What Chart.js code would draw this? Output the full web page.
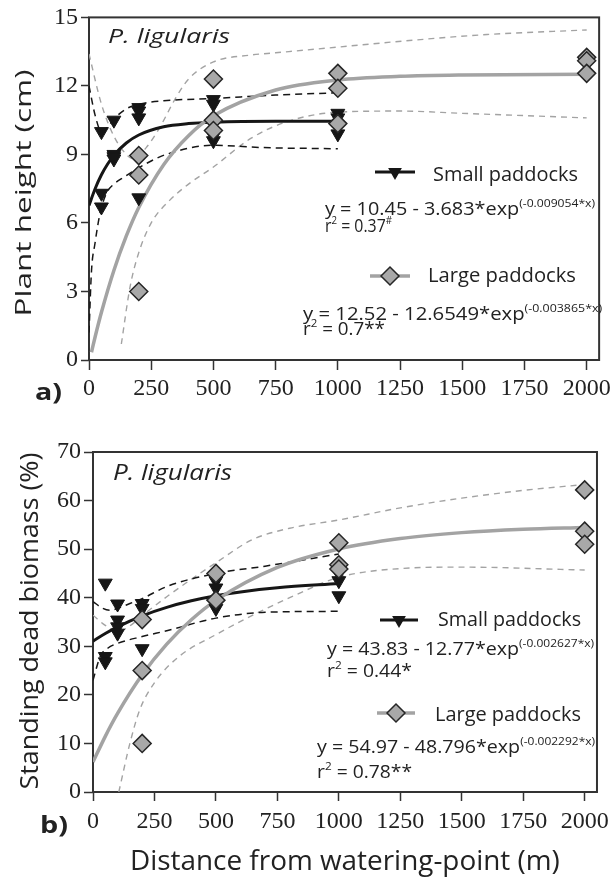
<!DOCTYPE html>
<html>
<head>
<meta charset="utf-8">
<script src="https://cdn.jsdelivr.net/npm/chart.js@4.4.1/dist/chart.umd.min.js"></script>
<style>
    body { margin: 0; width: 615px; height: 877px; position: relative; overflow: hidden; background: #fff; color: #222; font-family: 'Open Sans', sans-serif; }
    canvas { position: absolute; left: 0; }
    #chartA { top: 0; }
    #chartB { top: 430px; }
    .txt { position: absolute; white-space: nowrap; line-height: 1; transform-origin: 0 0; }
    .vtxt { position: absolute; white-space: nowrap; line-height: 1; transform-origin: 50% 50%; }
    .sup { position: relative; top: -8px; font-size: 11px; }
</style>
</head>
<body>
<canvas id="chartA" width="615" height="400"></canvas>
<canvas id="chartB" width="615" height="447"></canvas>
<script>
// shared axis ticks
const distanceTicks = [0, 250, 500, 750, 1000, 1250, 1500, 1750, 2000];
const heightTicks = [0, 3, 6, 9, 12, 15];
const deadTicks = [0, 10, 20, 30, 40, 50, 60, 70];

// a) plant height - observations
const aSmallX = [50, 50, 50, 100, 100, 100, 100, 200, 200, 200, 200, 500, 500, 500, 500, 1000, 1000, 1000];
const aSmallY = [10.0, 7.3, 6.7, 10.5, 9.0, 8.9, 8.8, 11.05, 10.9, 10.6, 7.1, 11.4, 11.2, 9.8, 9.6, 10.8, 10.6, 9.9];
const aLargeX = [200, 200, 200, 500, 500, 500, 1000, 1000, 1000, 2000, 2000, 2000];
const aLargeY = [8.95, 8.1, 3.0, 12.3, 10.5, 10.05, 12.55, 11.9, 10.35, 13.25, 13.1, 12.55];

// a) fitted curves
const aSmallFitX = [0, 25, 50, 75, 100, 150, 200, 300, 400, 500, 750, 1000];
const aSmallFitY = [6.77, 7.51, 8.11, 8.58, 8.96, 9.50, 9.85, 10.21, 10.35, 10.41, 10.45, 10.45];
const aLargeFitX = [10, 25, 50, 100, 150, 200, 300, 400, 500, 750, 1000, 1250, 1500, 2000];
const aLargeFitY = [0.34, 1.03, 2.09, 3.92, 5.43, 6.68, 8.55, 9.82, 10.69, 11.82, 12.26, 12.42, 12.48, 12.51];

// a) confidence bands
const aSmallUpX = [0, 25, 50, 75, 100, 150, 200, 300, 500, 750, 1000];
const aSmallUpY = [12.0, 10.7, 10.0, 10.2, 10.55, 11.0, 11.2, 11.35, 11.45, 11.6, 11.7];
const aSmallLoX = [0, 10, 24, 44, 70, 100, 140, 230, 310, 500, 700, 1000];
const aSmallLoY = [1.2, 3.9, 5.1, 6.4, 7.3, 7.7, 8.0, 8.6, 9.0, 9.4, 9.3, 9.25];
const aLargeUpX = [0, 50, 100, 150, 180, 230, 280, 350, 400, 500, 650, 750, 1000, 1300, 1600, 2000];
const aLargeUpY = [13.4, 11.2, 9.8, 9.0, 8.8, 9.3, 10.1, 11.5, 12.3, 13.05, 13.35, 13.45, 13.7, 14.0, 14.25, 14.45];
const aLargeLoX = [130, 165, 200, 250, 325, 400, 500, 650, 800, 1000, 1250, 1500, 2000];
const aLargeLoY = [0.7, 3.2, 4.7, 6.0, 7.0, 7.7, 8.45, 9.7, 10.45, 10.85, 10.9, 10.8, 10.6];

// b) standing dead biomass - observations
const bSmallX = [50, 50, 50, 100, 100, 100, 100, 200, 200, 200, 500, 500, 500, 1000, 1000, 1000, 1000];
const bSmallY = [43.0, 27.9, 26.8, 38.7, 35.4, 34.0, 32.7, 38.8, 37.8, 29.5, 43.5, 42.0, 37.8, 46.0, 45.0, 43.5, 40.4];
const bLargeX = [200, 200, 200, 500, 500, 1000, 1000, 1000, 2000, 2000, 2000];
const bLargeY = [35.5, 25.0, 10.0, 45.0, 39.5, 51.3, 46.8, 45.9, 62.2, 53.7, 51.0];

// b) fitted curves
const bSmallFitX = [0, 50, 100, 200, 300, 400, 500, 600, 750, 1000];
const bSmallFitY = [31.06, 32.63, 34.01, 36.28, 38.02, 39.36, 40.40, 41.19, 42.05, 42.91];
const bLargeFitX = [0, 50, 100, 200, 300, 400, 500, 750, 1000, 1250, 1500, 1750, 2000];
const bLargeFitY = [6.17, 11.46, 16.17, 24.12, 30.44, 35.46, 39.46, 46.23, 50.04, 52.19, 53.40, 54.09, 54.47];

// b) confidence bands
const bSmallUpX = [0, 40, 70, 100, 150, 200, 300, 500, 700, 1000];
const bSmallUpY = [39.2, 37.8, 37.4, 37.8, 38.8, 39.8, 42.3, 45.0, 46.5, 49.0];
const bSmallLoX = [0, 30, 60, 100, 200, 300, 500, 700, 1000];
const bSmallLoY = [23.0, 28.0, 29.6, 30.6, 32.0, 33.2, 35.8, 37.0, 37.2];
const bLargeUpX = [0, 50, 100, 150, 200, 300, 400, 500, 650, 800, 1000, 1250, 1500, 1750, 2000];
const bLargeUpY = [36.4, 34.3, 33.0, 34.2, 36.3, 40.2, 43.8, 47.2, 52.0, 54.3, 56.0, 58.5, 60.5, 62.1, 63.3];
const bLargeLoX = [105, 150, 190, 250, 350, 500, 650, 800, 1000, 1250, 1500, 2000];
const bLargeLoY = [0.0, 10.0, 16.9, 22.5, 27.9, 32.4, 36.4, 40.0, 44.2, 46.0, 46.3, 45.7];

const BLACK = '#161616';
const GREY = '#a3a3a3';
const DIAMOND_FILL = '#a8a8a8';

function pts(xs, ys) {
    return xs.map((x, i) => ({ x, y: ys[i] }));
}

function triangles(xs, ys) {
    return {
        data: pts(xs, ys), order: 1, showLine: false,
        pointStyle: 'triangle', pointRotation: 180, pointRadius: 8, pointHoverRadius: 8,
        backgroundColor: BLACK, borderColor: BLACK, borderWidth: 1,
    };
}

function diamonds(xs, ys) {
    return {
        data: pts(xs, ys), order: 0, showLine: false,
        pointStyle: 'rectRot', pointRadius: 9, pointHoverRadius: 9,
        backgroundColor: DIAMOND_FILL, borderColor: '#262626', borderWidth: 1.5,
    };
}

function curve(xs, ys, color, width, dash, order) {
    return {
        data: pts(xs, ys), order, showLine: true, fill: false,
        borderColor: color, borderWidth: width, borderDash: dash,
        pointRadius: 0, pointHoverRadius: 0, cubicInterpolationMode: 'monotone',
    };
}

const framePlugin = {
    id: 'frame',
    beforeDatasetsDraw(chart) {
        const { ctx, chartArea: a } = chart;
        ctx.save();
        ctx.strokeStyle = '#333';
        ctx.lineWidth = 2;
        ctx.strokeRect(a.left, a.top, a.right - a.left, a.bottom - a.top);
        ctx.restore();
    },
};

function legendMarks(marks) {
    return {
        id: 'legendMarks',
        afterDraw(chart) {
            const ctx = chart.ctx;
            ctx.save();
            marks.forEach((m) => {
                ctx.beginPath();
                ctx.strokeStyle = m.kind === 'small' ? BLACK : GREY;
                ctx.lineWidth = m.kind === 'small' ? 3 : 3.5;
                ctx.moveTo(m.x1, m.y);
                ctx.lineTo(m.x2, m.y);
                ctx.stroke();
                ctx.beginPath();
                if (m.kind === 'small') {
                    ctx.moveTo(m.cx, m.y + 8);
                    ctx.lineTo(m.cx - 6.9, m.y - 4);
                    ctx.lineTo(m.cx + 6.9, m.y - 4);
                    ctx.closePath();
                    ctx.fillStyle = BLACK;
                    ctx.fill();
                } else {
                    ctx.moveTo(m.cx - 9, m.y);
                    ctx.lineTo(m.cx, m.y - 9);
                    ctx.lineTo(m.cx + 9, m.y);
                    ctx.lineTo(m.cx, m.y + 9);
                    ctx.closePath();
                    ctx.fillStyle = DIAMOND_FILL;
                    ctx.fill();
                    ctx.strokeStyle = '#262626';
                    ctx.lineWidth = 1.5;
                    ctx.stroke();
                }
            });
            ctx.restore();
        },
    };
}

const tickFont = { family: "'Liberation Serif', serif", size: 24 };

function makePanel(id, datasets, yTicks, yMax, cfg) {
    return new Chart(document.getElementById(id), {
        type: 'scatter',
        data: { datasets },
        options: {
            responsive: false,
            animation: false,
            events: [],
            layout: { padding: { top: cfg.padTop, right: 13, left: 0, bottom: 0 } },
            plugins: { legend: { display: false }, tooltip: { enabled: false } },
            scales: {
                x: {
                    type: 'linear', min: 0, max: 2050,
                    afterBuildTicks: (s) => { s.ticks = distanceTicks.map((v) => ({ value: v })); },
                    afterFit: (s) => { s.height = cfg.xHeight; },
                    border: { display: false },
                    grid: { drawOnChartArea: false, tickLength: cfg.xTickLen, tickWidth: 1.5, tickColor: '#333' },
                    ticks: { font: tickFont, color: '#222', padding: cfg.xPad, maxRotation: 0, autoSkip: false, callback: (v) => String(v) },
                },
                y: {
                    type: 'linear', min: 0, max: yMax,
                    afterBuildTicks: (s) => { s.ticks = yTicks.map((v) => ({ value: v })); },
                    afterFit: (s) => { s.width = cfg.yWidth; },
                    border: { display: false },
                    grid: { drawOnChartArea: false, tickLength: cfg.yTickLen, tickWidth: 1.5, tickColor: '#333' },
                    ticks: { font: tickFont, color: '#222', padding: 3, autoSkip: false, callback: (v) => String(v) },
                },
            },
        },
        plugins: [framePlugin, legendMarks(cfg.marks)],
    });
}

makePanel('chartA', [
    diamonds(aLargeX, aLargeY),
    triangles(aSmallX, aSmallY),
    curve(aLargeFitX, aLargeFitY, GREY, 3.5, [], 2),
    curve(aSmallFitX, aSmallFitY, BLACK, 3, [], 3),
    curve(aSmallUpX, aSmallUpY, BLACK, 1.5, [7, 5], 4),
    curve(aSmallLoX, aSmallLoY, BLACK, 1.5, [7, 5], 4),
    curve(aLargeUpX, aLargeUpY, GREY, 1.4, [6, 5], 5),
    curve(aLargeLoX, aLargeLoY, GREY, 1.4, [6, 5], 5),
], heightTicks, 15, {
    padTop: 17, xHeight: 40, yWidth: 89, xTickLen: 10, yTickLen: 8, xPad: 4,
    marks: [
        { kind: 'small', x1: 375, x2: 415, cx: 395, y: 172 },
        { kind: 'large', x1: 370, x2: 410, cx: 390, y: 276 },
    ],
});

makePanel('chartB', [
    diamonds(bLargeX, bLargeY),
    triangles(bSmallX, bSmallY),
    curve(bLargeFitX, bLargeFitY, GREY, 3.5, [], 2),
    curve(bSmallFitX, bSmallFitY, BLACK, 3, [], 3),
    curve(bSmallUpX, bSmallUpY, BLACK, 1.5, [7, 5], 4),
    curve(bSmallLoX, bSmallLoY, BLACK, 1.5, [7, 5], 4),
    curve(bLargeUpX, bLargeUpY, GREY, 1.4, [6, 5], 5),
    curve(bLargeLoX, bLargeLoY, GREY, 1.4, [6, 5], 5),
], deadTicks, 70, {
    padTop: 22, xHeight: 85, yWidth: 93, xTickLen: 9, yTickLen: 9, xPad: 6,
    marks: [
        { kind: 'small', x1: 380, x2: 418, cx: 399, y: 190 },
        { kind: 'large', x1: 377, x2: 415, cx: 396, y: 283 },
    ],
});

// text laid over the canvases, stretched to the widths seen in the figure
function addText(html, left, baseline, size, width, style) {
    const d = document.createElement('div');
    d.className = 'txt';
    d.innerHTML = html;
    d.style.left = left + 'px';
    d.style.top = (baseline - 0.888 * size) + 'px';
    d.style.fontSize = size + 'px';
    if (style) d.style.cssText += style;
    document.body.appendChild(d);
    const w = d.getBoundingClientRect().width;
    d.style.transform = 'scaleX(' + (width / w).toFixed(3) + ')';
}

function addVertical(text, cx, cy, size, length) {
    const d = document.createElement('div');
    d.className = 'vtxt';
    d.textContent = text;
    d.style.left = cx + 'px';
    d.style.top = cy + 'px';
    d.style.fontSize = size + 'px';
    document.body.appendChild(d);
    const w = d.getBoundingClientRect().width;
    d.style.transform = 'translate(-50%, -50%) rotate(-90deg) scaleX(' + (length / w).toFixed(3) + ')';
}

const sup = (s) => '<span class="sup">' + s + '</span>';

addVertical('Plant height (cm)', 22, 193, 22, 247);
addVertical('Standing dead biomass (%)', 28, 621, 25, 337);
addText('Distance from watering-point (m)', 130, 870, 28, 430);
addText('a)', 35, 400, 24, 27, 'font-weight:700;');
addText('b)', 40, 833, 24, 28, 'font-weight:700;');
addText('P. ligularis', 108, 44, 20, 122, 'font-style:italic;');
addText('P. ligularis', 113, 481, 21, 119, 'font-style:italic;');

addText('Small paddocks', 433, 182, 20, 145);
addText('y = 10.45 - 3.683*exp' + sup('(-0.009054*x)'), 325, 215, 18, 270);
addText('r' + sup('2') + ' = 0.37' + sup('#'), 325, 232, 18, 67);
addText('Large paddocks', 428, 283, 20, 148);
addText('y = 12.52 - 12.6549*exp' + sup('(-0.003865*x)'), 303, 320, 18, 299);
addText('r' + sup('2') + ' = 0.7**', 303, 335, 18, 82);

addText('Small paddocks', 438, 627, 20, 143);
addText('y = 43.83 - 12.77*exp' + sup('(-0.002627*x)'), 327, 655, 18, 267);
addText('r' + sup('2') + ' = 0.44*', 327, 677, 18, 85);
addText('Large paddocks', 435, 722, 20, 146);
addText('y = 54.97 - 48.796*exp' + sup('(-0.002292*x)'), 317, 753, 18, 278);
addText('r' + sup('2') + ' = 0.78**', 317, 778, 18, 95);
</script>
</body>
</html>
